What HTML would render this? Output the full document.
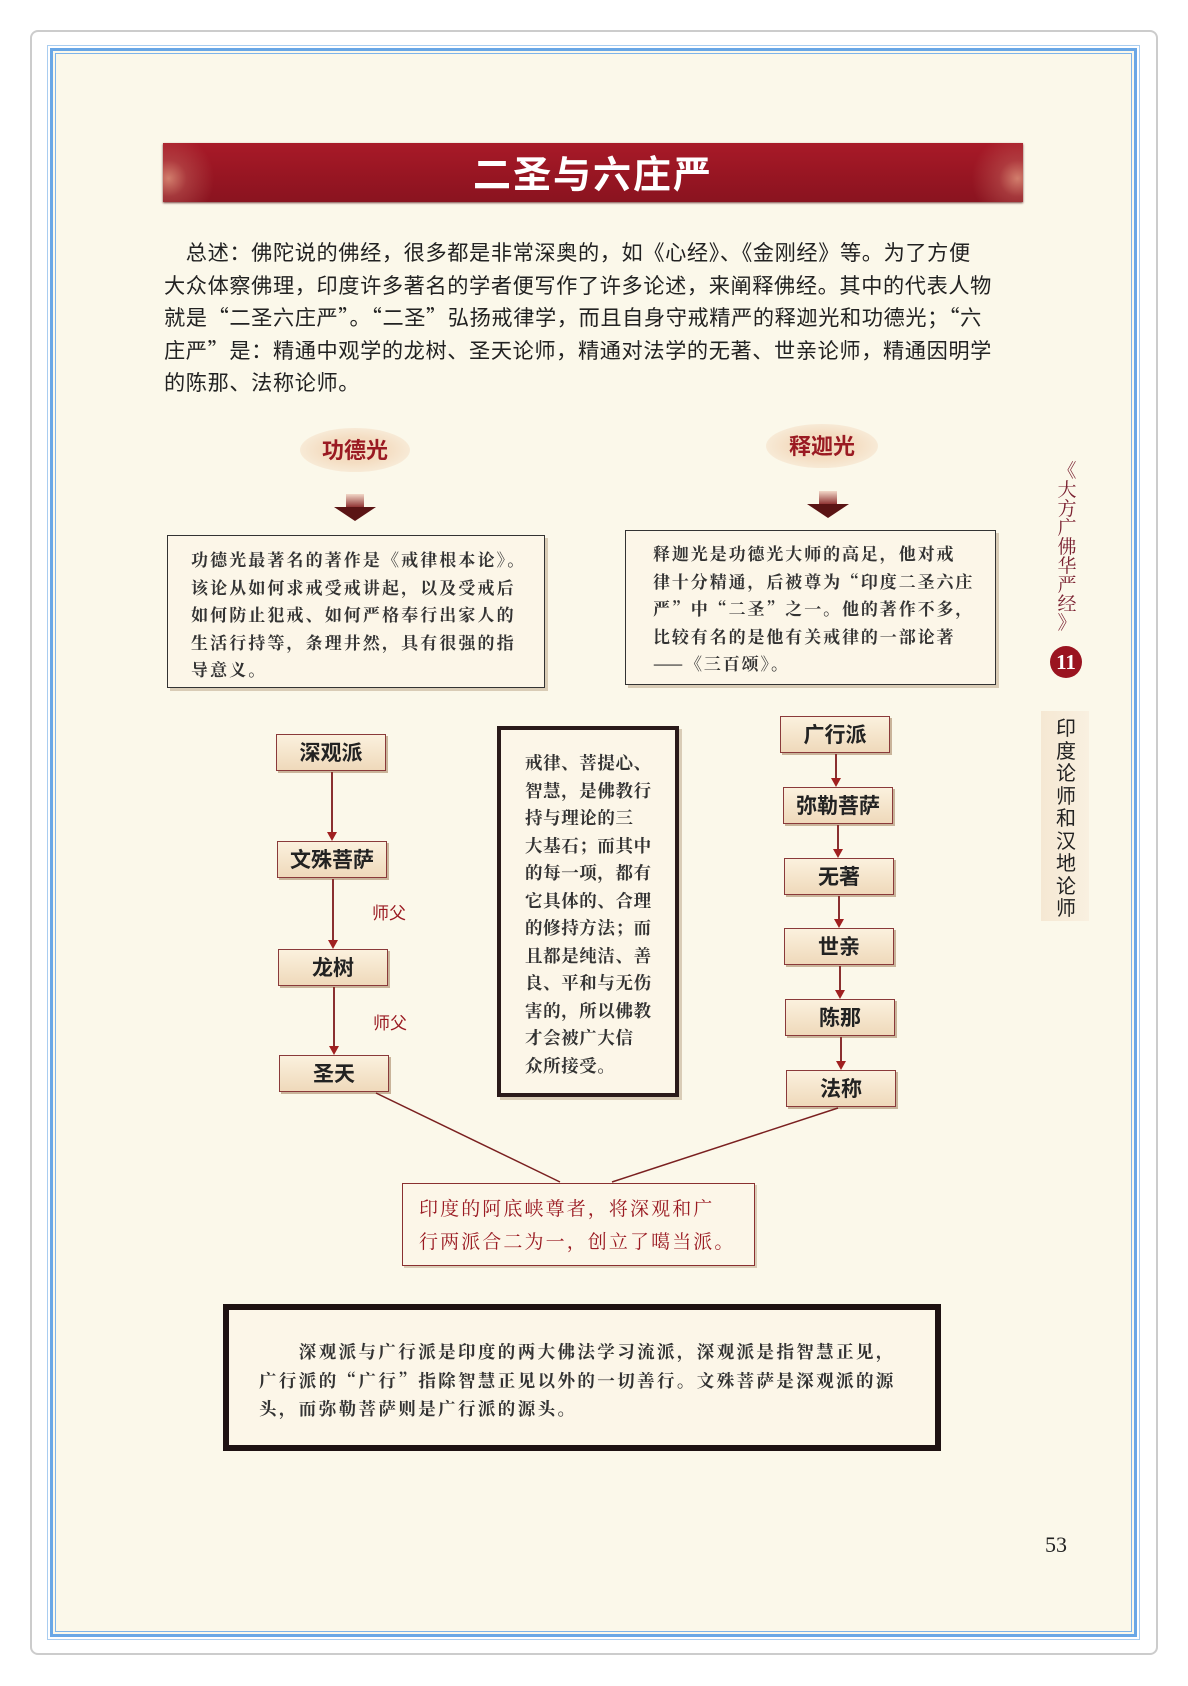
<!DOCTYPE html>
<html><head><meta charset="utf-8"><style>
*{margin:0;padding:0;box-sizing:border-box}
body{width:1188px;height:1686px;background:#fff;position:relative;overflow:hidden;font-family:"Noto Sans CJK SC","Liberation Sans",sans-serif;color:#222}
.a{position:absolute}
.serif{font-family:"Noto Serif CJK SC","Liberation Serif",serif}
.chain{position:absolute;width:110px;height:37px;border:1.5px solid #8a3a3a;background:linear-gradient(#fbf1de,#efd9bb);box-shadow:2px 2px 0 #c9b49a;font-weight:bold;font-size:21px;text-align:center;line-height:34px;color:#222}
.ln{position:absolute;width:1.5px;background:#8a3030}
.ar{position:absolute;width:0;height:0;border-left:5px solid transparent;border-right:5px solid transparent;border-top:9px solid #a02020}
.txt{white-space:nowrap}
</style></head><body>
<div class="a" style="left:30px;top:30px;width:1128px;height:1625px;border:2px solid #ccc;border-radius:8px;background:#fff"></div>
<div class="a" style="left:50px;top:48px;width:1087px;height:1589px;border:3px solid #69a7e6;outline:1px solid #a9cdf0;outline-offset:2px;background:#fbf8ea"></div>
<div class="a" style="left:55px;top:53px;width:1077px;height:1579px;border:1.5px solid #7db4ea"></div>

<!-- banner -->
<div class="a" style="left:163px;top:143px;width:860px;height:59px;background:linear-gradient(#a81a28,#961522 60%,#8a1420);box-shadow:0 1px 2px #744"></div>
<div class="a" style="left:163px;top:143px;width:55px;height:59px;background:radial-gradient(circle at 10% 60%,rgba(235,170,140,.7) 0,rgba(200,110,100,.4) 30%,transparent 75%)"></div>
<div class="a" style="left:968px;top:143px;width:55px;height:59px;background:radial-gradient(circle at 90% 60%,rgba(235,170,140,.7) 0,rgba(200,110,100,.4) 30%,transparent 75%)"></div>
<div class="a txt" style="left:163px;top:146px;width:860px;text-align:center;font-size:38px;font-weight:bold;color:#fff;letter-spacing:2px;line-height:52px">二圣与六庄严</div>

<!-- intro -->
<div class="a" style="left:164px;top:236px;width:840px;font-size:21.2px;line-height:32.5px;letter-spacing:0.6px;color:#222">
<div class="txt">　总述：佛陀说的佛经，很多都是非常深奥的，如《心经》、《金刚经》等。为了方便</div>
<div class="txt">大众体察佛理，印度许多著名的学者便写作了许多论述，来阐释佛经。其中的代表人物</div>
<div class="txt">就是“二圣六庄严”。“二圣”弘扬戒律学，而且自身守戒精严的释迦光和功德光；“六</div>
<div class="txt">庄严”是：精通中观学的龙树、圣天论师，精通对法学的无著、世亲论师，精通因明学</div>
<div class="txt">的陈那、法称论师。</div>
</div>

<!-- pills -->
<div class="a" style="left:300px;top:428px;width:110px;height:44px;border-radius:50%;background:radial-gradient(ellipse,#f4ddc2 40%,#f8ecd9 75%,transparent 100%)"></div>
<div class="a txt" style="left:300px;top:433px;width:110px;text-align:center;font-size:22px;font-weight:bold;color:#9a1a22">功德光</div>
<div class="a" style="left:766px;top:424px;width:112px;height:44px;border-radius:50%;background:radial-gradient(ellipse,#f4ddc2 40%,#f8ecd9 75%,transparent 100%)"></div>
<div class="a txt" style="left:766px;top:429px;width:112px;text-align:center;font-size:22px;font-weight:bold;color:#9a1a22">释迦光</div>
<!-- arrows -->
<div class="a" style="left:346px;top:494px;width:18px;height:14px;background:linear-gradient(#f2d8c8,#8a2a2a)"></div>
<div class="a" style="left:334px;top:507px;border-left:21px solid transparent;border-right:21px solid transparent;border-top:14px solid #5a1414"></div>
<div class="a" style="left:819px;top:491px;width:18px;height:14px;background:linear-gradient(#f2d8c8,#8a2a2a)"></div>
<div class="a" style="left:807px;top:504px;border-left:21px solid transparent;border-right:21px solid transparent;border-top:14px solid #5a1414"></div>

<!-- description boxes -->
<div class="a serif" style="left:167px;top:535px;width:378px;height:153px;border:1.5px solid #333;background:#fcf6e8;box-shadow:3px 3px 0 #d9ccb6;padding:9px 0 0 23px;font-size:17px;line-height:27.6px;letter-spacing:2.1px;font-weight:bold;color:#333">
<div class="txt">功德光最著名的著作是《戒律根本论》。</div>
<div class="txt">该论从如何求戒受戒讲起，以及受戒后</div>
<div class="txt">如何防止犯戒、如何严格奉行出家人的</div>
<div class="txt">生活行持等，条理井然，具有很强的指</div>
<div class="txt">导意义。</div>
</div>
<div class="a serif" style="left:625px;top:530px;width:371px;height:155px;border:1.5px solid #333;background:#fcf6e8;box-shadow:3px 3px 0 #d9ccb6;padding:8px 0 0 27px;font-size:17px;line-height:27.6px;letter-spacing:1.9px;font-weight:bold;color:#333">
<div class="txt">释迦光是功德光大师的高足，他对戒</div>
<div class="txt">律十分精通，后被尊为“印度二圣六庄</div>
<div class="txt">严”中“二圣”之一。他的著作不多，</div>
<div class="txt">比较有名的是他有关戒律的一部论著</div>
<div class="txt">——《三百颂》。</div>
</div>

<!-- left chain -->
<div class="chain" style="left:276px;top:734px">深观派</div>
<div class="ln" style="left:331px;top:772px;height:62px"></div><div class="ar" style="left:327px;top:832px"></div>
<div class="chain" style="left:277px;top:841px">文殊菩萨</div>
<div class="ln" style="left:332px;top:879px;height:62px"></div><div class="ar" style="left:328px;top:940px"></div>
<div class="chain" style="left:278px;top:949px">龙树</div>
<div class="ln" style="left:333px;top:987px;height:62px"></div><div class="ar" style="left:329px;top:1046px"></div>
<div class="chain" style="left:279px;top:1055px">圣天</div>
<div class="a txt" style="left:372px;top:899px;font-size:17px;color:#9a1a22">师父</div>
<div class="a txt" style="left:373px;top:1009px;font-size:17px;color:#9a1a22">师父</div>

<!-- middle box -->
<div class="a serif" style="left:497px;top:726px;width:182px;height:371px;border:4px solid #2a1a1a;background:#fcf6e8;box-shadow:3px 3px 0 #d9ccb6;padding:19px 0 0 24px;font-size:17.5px;line-height:27.5px;letter-spacing:0.6px;font-weight:bold;color:#333">
<div class="txt">戒律、菩提心、</div><div class="txt">智慧，是佛教行</div><div class="txt">持与理论的三</div><div class="txt">大基石；而其中</div><div class="txt">的每一项，都有</div><div class="txt">它具体的、合理</div><div class="txt">的修持方法；而</div><div class="txt">且都是纯洁、善</div><div class="txt">良、平和与无伤</div><div class="txt">害的，所以佛教</div><div class="txt">才会被广大信</div><div class="txt">众所接受。</div>
</div>

<!-- right chain -->
<div class="chain" style="left:780px;top:716px">广行派</div>
<div class="ln" style="left:835px;top:754px;height:26px"></div><div class="ar" style="left:831px;top:778px"></div>
<div class="chain" style="left:783px;top:787px">弥勒菩萨</div>
<div class="ln" style="left:837px;top:825px;height:26px"></div><div class="ar" style="left:833px;top:849px"></div>
<div class="chain" style="left:784px;top:858px">无著</div>
<div class="ln" style="left:838px;top:896px;height:25px"></div><div class="ar" style="left:834px;top:919px"></div>
<div class="chain" style="left:784px;top:928px">世亲</div>
<div class="ln" style="left:839px;top:966px;height:26px"></div><div class="ar" style="left:835px;top:990px"></div>
<div class="chain" style="left:785px;top:999px">陈那</div>
<div class="ln" style="left:840px;top:1037px;height:26px"></div><div class="ar" style="left:836px;top:1061px"></div>
<div class="chain" style="left:786px;top:1070px">法称</div>

<svg class="a" style="left:0;top:0" width="1188" height="1686">
<line x1="376" y1="1093" x2="560" y2="1182" stroke="#7a2020" stroke-width="1.5"/>
<line x1="838" y1="1108" x2="612" y2="1182" stroke="#7a2020" stroke-width="1.5"/>
</svg>

<div class="a serif" style="left:402px;top:1183px;width:353px;height:83px;border:1.5px solid #8a3030;background:#fcf6e8;box-shadow:2px 2px 0 #d9ccb6;padding:7px 0 0 16px;font-size:19px;line-height:33px;letter-spacing:2.1px;color:#9a1a22">
<div class="txt">印度的阿底峡尊者，将深观和广</div>
<div class="txt">行两派合二为一，创立了噶当派。</div>
</div>

<div class="a serif" style="left:223px;top:1304px;width:718px;height:147px;border:6px solid #1e1212;background:#fcf6e8;padding:28px 0 0 30px;font-size:17.5px;line-height:28.5px;letter-spacing:2.4px;font-weight:bold;color:#333">
<div class="txt">　　深观派与广行派是印度的两大佛法学习流派，深观派是指智慧正见，</div>
<div class="txt">广行派的“广行”指除智慧正见以外的一切善行。文殊菩萨是深观派的源</div>
<div class="txt">头，而弥勒菩萨则是广行派的源头。</div>
</div>

<!-- side -->
<div class="a serif" style="left:1056px;top:460px;width:22px;font-size:19px;line-height:19px;color:#7a2030;text-align:center">《<br>大<br>方<br>广<br>佛<br>华<br>严<br>经<br>》</div>
<div class="a" style="left:1050px;top:646px;width:32px;height:32px;border-radius:50%;background:#9a1420;color:#fff;font-family:'Liberation Serif',serif;font-size:21px;text-align:center;line-height:32px;font-weight:bold">11</div>
<div class="a" style="left:1041px;top:711px;width:48px;height:210px;background:linear-gradient(90deg,#f5e8d3,#f9f0e0)"></div>
<div class="a" style="left:1055px;top:716px;width:22px;font-size:20px;line-height:22.5px;color:#222;text-align:center">印<br>度<br>论<br>师<br>和<br>汉<br>地<br>论<br>师</div>
<div class="a txt" style="left:1045px;top:1532px;font-family:'Liberation Serif',serif;font-size:22px;color:#222">53</div>
</body></html>
